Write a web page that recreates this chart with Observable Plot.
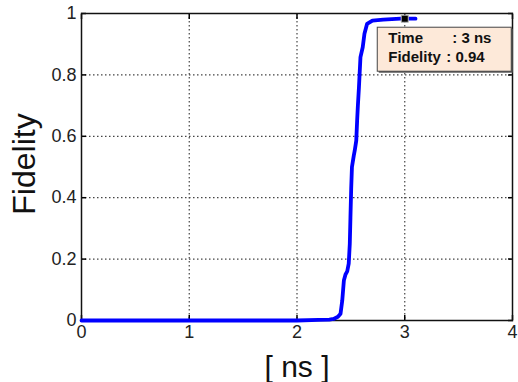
<!DOCTYPE html>
<html>
<head>
<meta charset="utf-8">
<script src="https://cdn.jsdelivr.net/npm/d3@7"></script>
<script src="https://cdn.jsdelivr.net/npm/@observablehq/plot@0.6"></script>
<style>
  html, body { margin: 0; padding: 0; background: #fff; }
  #chart svg { display: block; }
</style>
</head>
<body>
<div id="chart"></div>
<script>
// Data
const timeNs   = [0, 0.5, 1, 1.5, 2, 2.2, 2.3, 2.34, 2.38, 2.404, 2.42, 2.435, 2.45, 2.466, 2.48, 2.49, 2.496, 2.503, 2.51, 2.527, 2.536, 2.55, 2.558, 2.565, 2.575, 2.589, 2.61, 2.626, 2.65, 2.7, 2.8, 2.96, 3.1];
const fidelity = [0, 0, 0, 0, 0, 0.002, 0.003, 0.005, 0.012, 0.022, 0.065, 0.13, 0.15, 0.16, 0.185, 0.25, 0.335, 0.43, 0.5, 0.537, 0.554, 0.586, 0.65, 0.7, 0.76, 0.858, 0.89, 0.934, 0.966, 0.977, 0.98, 0.983, 0.983];
const xTicks = [0, 1, 2, 3, 4];
const yTicks = [0, 0.2, 0.4, 0.6, 0.8, 1];
const xLabel = "[ ns ]";
const yLabel = "Fidelity";
const markerTime = 3;
const markerFidelity = 0.983;
const tipLabels = ["Time", "Fidelity"];
const tipValues = [": 3 ns", ": 0.94"];

const data = timeNs.map((t, i) => ({t, f: fidelity[i]}));
const font = "'Liberation Sans', Arial, Helvetica, sans-serif";

// tooltip box drawn relative to the marker point
function tipBox(index, scales) {
  const px = scales.x(markerTime), py = scales.y(markerFidelity);
  const g = d3.create("svg:g");
  g.append("rect")
    .attr("x", px - 27 + 1.5).attr("y", py + 9 + 1.5)
    .attr("width", 134).attr("height", 44)
    .attr("fill", "#555");
  g.append("rect")
    .attr("x", px - 27).attr("y", py + 9)
    .attr("width", 134).attr("height", 44)
    .attr("fill", "#fde9d9").attr("stroke", "#444").attr("stroke-width", 1);
  const rows = [[tipLabels[0], tipValues[0], 48], [tipLabels[1], tipValues[1], 42]];
  rows.forEach(([lab, val, off], i) => {
    const ty = py + 20 + i * 19;
    g.append("text").attr("x", px - 16).attr("y", ty).attr("dy", "0.35em")
      .attr("text-anchor", "start")
      .attr("font-family", font).attr("font-size", 15).attr("font-weight", "bold")
      .attr("fill", "#111").text(lab);
    g.append("text").attr("x", px + off).attr("y", ty).attr("dy", "0.35em")
      .attr("text-anchor", "start")
      .attr("font-family", font).attr("font-size", 15).attr("font-weight", "bold")
      .attr("fill", "#111").text(val);
  });
  return g.node();
}

const chart = Plot.plot({
  width: 518,
  height: 382,
  marginLeft: 81,
  marginRight: 6,
  marginTop: 13,
  marginBottom: 62,
  style: {fontFamily: font, background: "#fff"},
  x: {domain: [0, 4]},
  y: {domain: [0, 1]},
  marks: [
    Plot.gridX([1, 2, 3], {stroke: "#444", strokeOpacity: 1, strokeWidth: 1.2, strokeDasharray: "1.5,2.5"}),
    Plot.gridY([0.2, 0.4, 0.6, 0.8], {stroke: "#444", strokeOpacity: 1, strokeWidth: 1.2, strokeDasharray: "1.5,2.5"}),
    // inward ticks on all sides
    Plot.axisX(xTicks, {anchor: "bottom", tickSize: -5, tickFormat: () => "", label: null, stroke: "#000", strokeWidth: 1.5}),
    Plot.axisX(xTicks, {anchor: "top", tickSize: -5, tickFormat: () => "", label: null, stroke: "#000", strokeWidth: 1.5}),
    Plot.axisY(yTicks, {anchor: "left", tickSize: -5, tickFormat: () => "", label: null, stroke: "#000", strokeWidth: 1.5}),
    Plot.axisY(yTicks, {anchor: "right", tickSize: -5, tickFormat: () => "", label: null, stroke: "#000", strokeWidth: 1.5}),
    // tick labels
    Plot.axisX(xTicks, {anchor: "bottom", tickSize: 0, tickPadding: 5, fontSize: 18, fill: "#222", label: null, tickFormat: d => String(d)}),
    Plot.axisY(yTicks, {anchor: "left", tickSize: 0, tickPadding: 5, fontSize: 18, fill: "#222", label: null, tickFormat: d => String(d)}),
    Plot.frame({stroke: "#111", strokeWidth: 1.5}),
    Plot.line(data, {x: "t", y: "f", stroke: "#0000ff", strokeWidth: 3.8, strokeLinejoin: "round", curve: "linear"}),
    Plot.dot([markerTime], {x: d => d, y: () => markerFidelity, symbol: "square", r: 4, fill: "#000", stroke: "#bbb", strokeWidth: 1}),
    tipBox,
    Plot.text([xLabel], {frameAnchor: "bottom", lineAnchor: "bottom", dy: 56, fontSize: 30, fill: "#111"}),
    Plot.text([yLabel], {frameAnchor: "left", textAnchor: "middle", lineAnchor: "middle", dx: -57, dy: -3, rotate: -90, fontSize: 32, fill: "#111"})
  ]
});
document.getElementById("chart").append(chart);
</script>
</body>
</html>
